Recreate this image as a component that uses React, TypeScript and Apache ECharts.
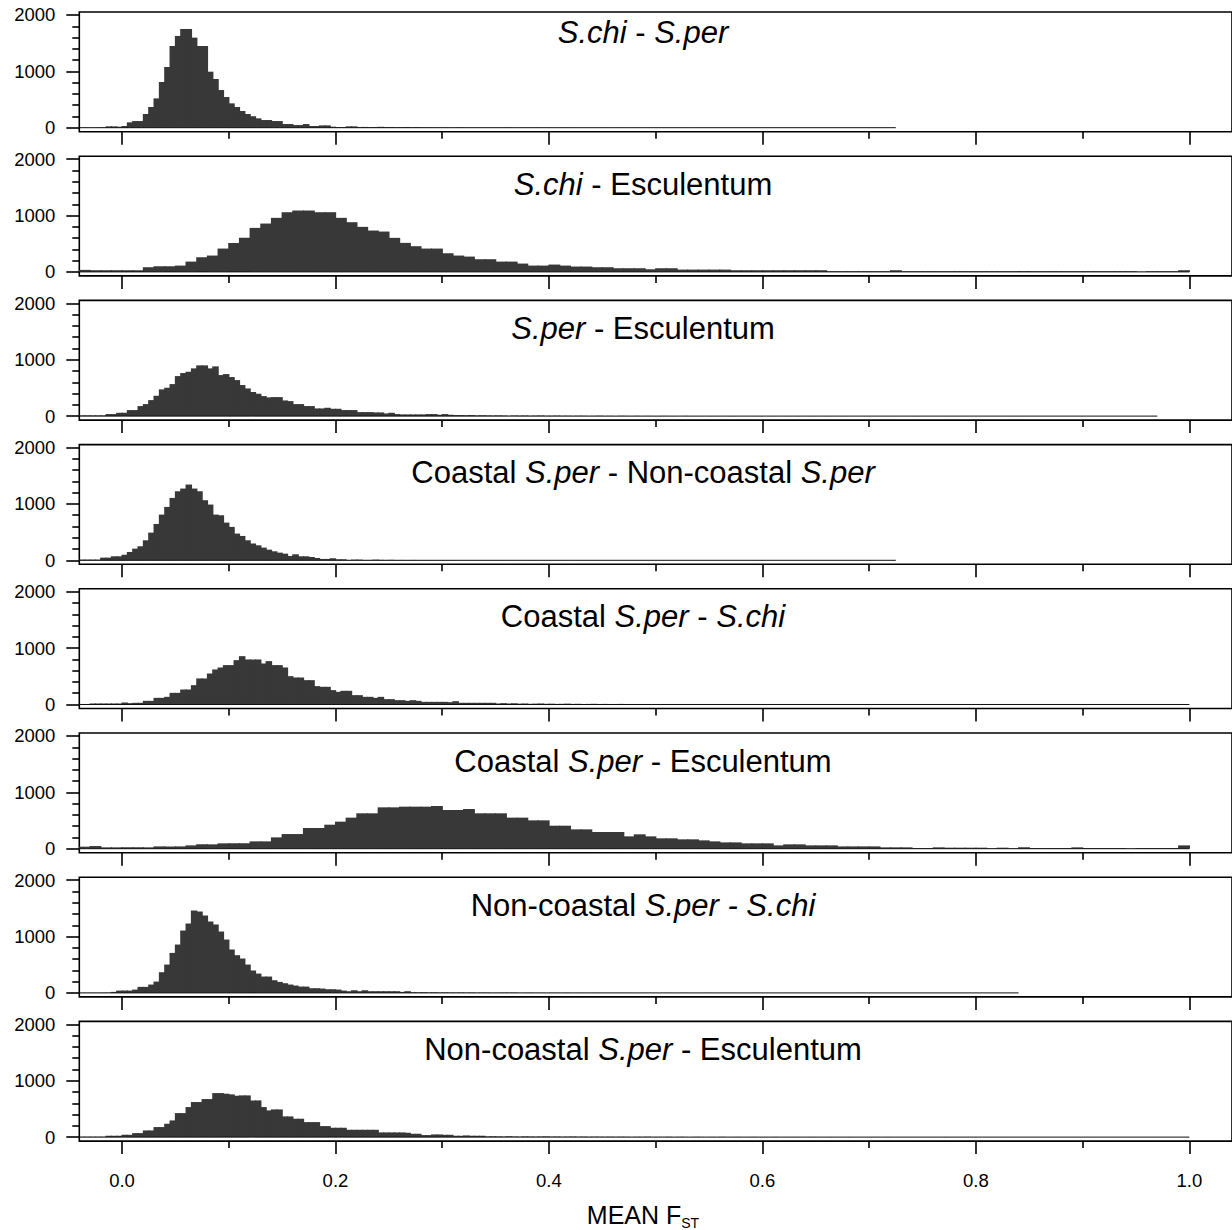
import React, { useEffect, useRef } from "react";
import * as echarts from "echarts";

// ---------- DATA ----------
const xTickMajor = [0, 0.2, 0.4, 0.6, 0.8, 1.0];
const xTickMinor = [0.1, 0.3, 0.5, 0.7, 0.9];
const yTickMajor = [0, 1000, 2000];
const yTickMinor = [200, 400, 600, 800, 1200, 1400, 1600, 1800];

// panel titles: [text, italic]
const titleSchiSper: [string, boolean][] = [["S.chi", true], [" - ", false], ["S.per", true]];
const titleSchiEsc: [string, boolean][] = [["S.chi", true], [" - Esculentum", false]];
const titleSperEsc: [string, boolean][] = [["S.per", true], [" - Esculentum", false]];
const titleCoastNon: [string, boolean][] = [["Coastal ", false], ["S.per", true], [" - Non-coastal ", false], ["S.per", true]];
const titleCoastSchi: [string, boolean][] = [["Coastal ", false], ["S.per", true], [" - ", false], ["S.chi", true]];
const titleCoastEsc: [string, boolean][] = [["Coastal ", false], ["S.per", true], [" - Esculentum", false]];
const titleNonSchi: [string, boolean][] = [["Non-coastal ", false], ["S.per - S.chi", true]];
const titleNonEsc: [string, boolean][] = [["Non-coastal ", false], ["S.per", true], [" - Esculentum", false]];

// histogram bins: first bin left edge, bin width, counts
const binStart = -0.04;
const binWidthFine = 0.005;
const binWidthCoarse = 0.01;

const countsSchiSper = [
  2, 3, 2, 4, 6, 24, 24, 18,
  30, 95, 118, 118, 243, 367, 520, 811, 1077, 1450,
  1628, 1752, 1752, 1598, 1450, 1450, 994, 864, 668, 544,
  432, 367, 296, 243, 201, 166, 136, 136, 118, 118,
  65, 65, 47, 47, 65, 30, 30, 41, 41, 18,
  12, 12, 24, 24, 12, 14, 10, 12, 16, 10,
  12, 8, 10, 12, 8, 10, 6, 4, 5, 3,
  4, 2, 3, 5, 2, 1, 3, 2, 0, 2,
  3, 1, 2, 0, 1, 2, 1, 3, 0, 1,
  1, 0, 2, 1, 0, 1, 0, 1, 1, 0,
  0, 1, 0, 0, 1, 0, 0, 1, 0, 0,
  0, 1, 0, 0, 0, 0, 1, 0, 0, 0,
  0, 0, 0, 1, 0, 0, 0, 0, 0, 0,
  0, 0, 1, 0, 0, 0, 0, 0, 0, 0,
  0, 0, 0, 0, 0, 0, 0, 0, 0, 0,
  0, 0, 0, 0, 1,
];

const countsSchiEsc = [
  36, 30, 30, 30, 30, 30, 83, 100, 100, 112,
  183, 260, 290, 414, 515, 604, 781, 858, 959, 1059,
  1089, 1089, 1059, 1059, 959, 882, 799, 734, 716, 604,
  515, 456, 414, 414, 331, 290, 272, 225, 225, 183,
  183, 148, 112, 112, 130, 112, 95, 95, 83, 83,
  65, 65, 65, 47, 65, 65, 41, 41, 41, 41,
  41, 30, 30, 30, 30, 30, 30, 30, 30, 30,
  12, 12, 12, 12, 12, 12, 30, 12, 12, 12,
  12, 12, 12, 12, 12, 12, 12, 12, 12, 12,
  12, 12, 12, 12, 12, 12, 12, 12, 12, 3,
  12, 12, 12, 30,
];

const countsSperEsc = [
  12, 12, 12, 12, 12, 36, 36, 59,
  59, 107, 107, 178, 213, 284, 361, 474, 503, 568,
  710, 764, 787, 847, 900, 900, 847, 882, 728, 746,
  693, 639, 551, 491, 426, 397, 355, 332, 337, 337,
  278, 266, 213, 213, 178, 178, 136, 136, 148, 130,
  130, 107, 107, 107, 71, 71, 71, 65, 65, 47,
  59, 36, 30, 30, 30, 30, 30, 36, 36, 24,
  36, 24, 18, 18, 15, 18, 12, 15, 12, 10,
  12, 10, 8, 12, 8, 10, 6, 8, 10, 6,
  6, 8, 5, 6, 4, 6, 5, 3, 4, 6,
  3, 4, 2, 5, 3, 2, 4, 1, 3, 2,
  2, 3, 1, 2, 0, 3, 1, 2, 1, 0,
  2, 1, 0, 1, 2, 0, 1, 0, 1, 2,
  0, 1, 0, 0, 1, 0, 2, 0, 0, 1,
  0, 0, 1, 0, 0, 1, 0, 0, 0, 1,
  0, 0, 0, 1, 0, 0, 0, 0, 1, 0,
  0, 0, 0, 0, 0, 1, 0, 0, 0, 0,
  0, 0, 0, 0, 0, 0, 0, 1, 0, 0,
  0, 0, 0, 0, 0, 0, 0, 0, 0, 0,
  0, 0, 0, 0, 0, 0, 0, 0, 0, 0,
  0, 0, 0, 1,
];

const countsCoastNon = [
  12, 12, 12, 12, 47, 47, 71, 71,
  100, 148, 207, 249, 355, 491, 645, 811, 947, 1107,
  1225, 1273, 1344, 1273, 1225, 1066, 989, 811, 799, 669,
  592, 474, 432, 355, 296, 266, 225, 189, 160, 136,
  118, 77, 107, 71, 71, 59, 41, 24, 24, 36,
  18, 18, 6, 12, 12, 6, 6, 12, 8, 6,
  8, 5, 6, 4, 6, 3, 5, 4, 2, 3,
  4, 2, 3, 1, 2, 3, 1, 2, 0, 2,
  1, 2, 0, 1, 1, 0, 2, 1, 0, 1,
  0, 1, 0, 1, 0, 0, 1, 0, 1, 0,
  0, 0, 1, 0, 0, 1, 0, 0, 0, 1,
  0, 0, 0, 0, 1, 0, 0, 0, 0, 0,
  1, 0, 0, 0, 0, 0, 0, 0, 1, 0,
  0, 0, 0, 0, 0, 0, 0, 0, 0, 0,
  0, 0, 0, 0, 0, 0, 0, 0, 0, 0,
  0, 0, 0, 0, 1,
];

const countsCoastSchi = [
  6, 6, 18, 18, 18, 18, 18, 18,
  36, 24, 30, 30, 65, 65, 118, 118, 136, 207,
  207, 266, 266, 343, 462, 462, 550, 622, 657, 699,
  699, 787, 858, 799, 799, 799, 728, 770, 699, 699,
  657, 503, 479, 479, 432, 432, 326, 314, 314, 255,
  225, 243, 243, 166, 166, 136, 136, 118, 136, 95,
  95, 77, 77, 65, 77, 65, 47, 47, 47, 47,
  47, 41, 59, 30, 30, 30, 30, 30, 30, 30,
  18, 24, 18, 20, 15, 18, 12, 15, 18, 12,
  14, 10, 12, 15, 10, 12, 8, 10, 12, 8,
  10, 6, 8, 10, 6, 8, 5, 7, 6, 5,
  6, 4, 5, 3, 6, 4, 2, 5, 3, 4,
  2, 4, 3, 1, 3, 2, 4, 2, 1, 3,
  2, 1, 3, 2, 0, 2, 1, 3, 1, 2,
  1, 0, 2, 1, 1, 3, 0, 1, 2, 0,
  1, 2, 0, 1, 0, 2, 1, 0, 1, 1,
  0, 1, 2, 0, 1, 0, 1, 0, 2, 0,
  1, 0, 0, 1, 0, 1, 0, 0, 1, 0,
  0, 1, 0, 0, 2, 0, 0, 1, 0, 0,
  1, 0, 0, 0, 1, 0, 0, 0, 1, 0,
  0, 0, 1, 0, 0, 0, 0, 1, 0, 3,
];

const countsCoastEsc = [
  36, 47, 24, 24, 24, 24, 24, 41, 41, 41,
  59, 77, 77, 95, 95, 95, 130, 130, 201, 260,
  260, 367, 367, 426, 480, 551, 628, 628, 734, 734,
  746, 746, 746, 758, 687, 687, 704, 628, 628, 628,
  551, 551, 503, 503, 408, 408, 343, 343, 296, 296,
  296, 219, 255, 219, 184, 184, 166, 166, 148, 130,
  112, 112, 95, 95, 95, 59, 77, 77, 59, 59,
  59, 41, 41, 41, 41, 24, 24, 24, 12, 12,
  24, 18, 18, 18, 18, 6, 18, 6, 24, 12,
  12, 12, 12, 24, 12, 12, 12, 12, 2, 12,
  12, 12, 12, 59,
];

const countsNonSchi = [
  2, 2, 3, 2, 3, 4, 18, 41,
  41, 41, 59, 107, 107, 148, 201, 367, 503, 710,
  858, 1107, 1231, 1462, 1444, 1373, 1267, 1214, 1089, 947,
  770, 669, 610, 503, 397, 343, 290, 290, 225, 195,
  172, 148, 130, 112, 112, 83, 83, 77, 65, 65,
  59, 41, 30, 47, 30, 47, 30, 30, 30, 30,
  30, 30, 18, 30, 12, 10, 12, 8, 10, 6,
  8, 6, 5, 7, 4, 6, 3, 5, 4, 2,
  3, 4, 2, 3, 1, 2, 3, 1, 2, 0,
  2, 1, 1, 2, 0, 1, 1, 0, 2, 1,
  0, 1, 0, 1, 1, 0, 0, 1, 0, 1,
  0, 0, 1, 0, 0, 1, 0, 0, 0, 1,
  0, 0, 0, 1, 0, 0, 0, 0, 1, 0,
  0, 0, 0, 0, 0, 1, 0, 0, 0, 0,
  0, 0, 0, 0, 0, 0, 0, 0, 1, 0,
  0, 0, 0, 0, 0, 0, 0, 0, 0, 0,
  0, 0, 0, 0, 0, 0, 0, 0, 0, 0,
  0, 0, 0, 0, 0, 0, 0, 1,
];

const countsNonEsc = [
  6, 6, 6, 6, 6, 24, 24, 24,
  41, 41, 71, 71, 118, 118, 178, 178, 237, 296,
  426, 426, 533, 622, 622, 675, 675, 781, 781, 770,
  758, 734, 740, 740, 651, 651, 533, 474, 491, 491,
  367, 367, 326, 326, 266, 266, 266, 195, 195, 166,
  166, 166, 130, 130, 130, 130, 130, 130, 83, 83,
  83, 83, 83, 77, 59, 59, 36, 36, 47, 47,
  41, 41, 24, 24, 30, 24, 24, 24, 12, 14,
  12, 10, 14, 12, 8, 12, 10, 8, 10, 12,
  8, 10, 6, 8, 10, 6, 8, 5, 7, 6,
  5, 6, 4, 6, 5, 3, 5, 4, 6, 3,
  4, 3, 5, 2, 4, 3, 2, 4, 3, 1,
  3, 2, 4, 1, 2, 3, 1, 2, 3, 1,
  2, 1, 3, 0, 2, 1, 2, 0, 1, 2,
  1, 0, 2, 1, 0, 1, 2, 0, 1, 0,
  1, 1, 0, 2, 0, 1, 0, 1, 0, 1,
  0, 1, 0, 0, 2, 0, 1, 0, 0, 1,
  0, 0, 1, 0, 0, 1, 0, 0, 0, 1,
  0, 0, 0, 1, 0, 0, 0, 0, 1, 0,
  0, 1, 0, 0, 0, 0, 1, 0, 0, 0,
  0, 0, 0, 1, 0, 0, 0, 0, 0, 2,
];

const panelTitles = [
  titleSchiSper, titleSchiEsc, titleSperEsc, titleCoastNon,
  titleCoastSchi, titleCoastEsc, titleNonSchi, titleNonEsc,
];
const panelCounts = [
  countsSchiSper, countsSchiEsc, countsSperEsc, countsCoastNon,
  countsCoastSchi, countsCoastEsc, countsNonSchi, countsNonEsc,
];
const panelBinWidths = [
  binWidthFine, binWidthCoarse, binWidthFine, binWidthFine,
  binWidthFine, binWidthCoarse, binWidthFine, binWidthFine,
];

const xAxisName = "MEAN F";
const xAxisNameSub = "ST";

// ---------- LAYOUT ----------
const FONT = "'Liberation Sans', Arial, Helvetica, sans-serif";
const GRID_LEFT = 79.3;
const GRID_WIDTH = 1153.4;
const GRID_TOP0 = 12;
const GRID_STEP = 144.2;
const GRID_HEIGHT = 119.7;
const X_MIN = -0.04;
const X_MAX = 1.04;
const Y_MIN = -71;
const Y_MAX = 2053;
const BAR_COLOR = "#383838";

function richTitle(parts: [string, boolean][]) {
  return parts.map(([t, it]) => (it ? `{i|${t}}` : `{n|${t}}`)).join("");
}

function App() {
  const ref = useRef<HTMLDivElement>(null);
  useEffect(() => {
    if (!ref.current) return;
    const chart = echarts.init(ref.current, null, { renderer: "svg" });
    const grids: any[] = [];
    const xAxes: any[] = [];
    const yAxes: any[] = [];
    const series: any[] = [];
    const graphics: any[] = [];

    panelCounts.forEach((counts, i) => {
      const top = GRID_TOP0 + i * GRID_STEP;
      const isLast = i === panelCounts.length - 1;
      grids.push({
        left: GRID_LEFT, top, width: GRID_WIDTH, height: GRID_HEIGHT,
        show: true, borderColor: "#000", borderWidth: 1.6, backgroundColor: "transparent",
      });
      const xBase = {
        type: "value", gridIndex: i, min: X_MIN, max: X_MAX, position: "bottom",
        axisLine: { show: false, onZero: false }, splitLine: { show: false },
      };
      xAxes.push({
        ...xBase,
        axisTick: { show: true, length: 13, lineStyle: { color: "#000", width: 1.6 }, customValues: xTickMajor },
        axisLabel: {
          show: isLast, customValues: xTickMajor, margin: 30, fontSize: 18.5, color: "#000", fontFamily: FONT,
          formatter: (v: number) => v.toFixed(1),
        },
      });
      xAxes.push({
        ...xBase,
        axisTick: { show: true, length: 7, lineStyle: { color: "#000", width: 1.6 }, customValues: xTickMinor },
        axisLabel: { show: false },
      });
      const yBase = {
        type: "value", gridIndex: i, min: Y_MIN, max: Y_MAX, position: "left",
        axisLine: { show: false, onZero: false }, splitLine: { show: false },
      };
      yAxes.push({
        ...yBase,
        axisTick: { show: true, length: 13, lineStyle: { color: "#000", width: 1.6 }, customValues: yTickMajor },
        axisLabel: {
          show: true, customValues: yTickMajor, margin: 24, fontSize: 18.5, color: "#000", fontFamily: FONT,
          formatter: (v: number) => String(Math.round(v)),
        },
      });
      yAxes.push({
        ...yBase,
        axisTick: { show: true, length: 7, lineStyle: { color: "#000", width: 1.6 }, customValues: yTickMinor },
        axisLabel: { show: false },
      });

      const w = panelBinWidths[i];
      const data = counts.map((c, k) => [binStart + k * w, binStart + (k + 1) * w, c]);
      series.push({
        type: "custom",
        xAxisIndex: 2 * i,
        yAxisIndex: 2 * i,
        encode: { x: [0, 1], y: 2 },
        data,
        renderItem: (params: any, api: any) => {
          const p0 = api.coord([api.value(0), api.value(2)]);
          const p1 = api.coord([api.value(1), 0]);
          return {
            type: "rect",
            shape: { x: p0[0] - 0.5, y: p0[1], width: p1[0] - p0[0] + 1.2, height: p1[1] - p0[1] },
            style: { fill: BAR_COLOR, lineWidth: 0 },
          };
        },
      });
      const end = binStart + counts.length * w;
      series.push({
        type: "line",
        xAxisIndex: 2 * i,
        yAxisIndex: 2 * i,
        data: [[binStart, 0], [end, 0]],
        showSymbol: false,
        lineStyle: { color: "#111", width: 1 },
        z: 3,
      });

      graphics.push({
        type: "text",
        x: 643,
        y: top + (i === 0 ? 20 : 28),
        style: {
          text: richTitle(panelTitles[i]),
          align: "center",
          verticalAlign: "middle",
          fill: "#000",
          rich: {
            i: { fontStyle: "italic", fontSize: 31, fontFamily: FONT, fill: "#000" },
            n: { fontSize: 31, fontFamily: FONT, fill: "#000" },
          },
        },
      });
    });

    graphics.push({
      type: "text",
      x: 643,
      y: 1215,
      style: {
        text: `{a|${xAxisName}}{s|${xAxisNameSub}}`,
        align: "center",
        verticalAlign: "middle",
        rich: {
          a: { fontSize: 25, fontFamily: FONT, fill: "#000", verticalAlign: "bottom" },
          s: { fontSize: 14, fontFamily: FONT, fill: "#000", verticalAlign: "bottom", padding: [0, 0, -2, 0] },
        },
      },
    });

    chart.setOption({
      animation: false,
      backgroundColor: "#fff",
      grid: grids,
      xAxis: xAxes,
      yAxis: yAxes,
      series,
      graphic: graphics,
    });
    return () => chart.dispose();
  }, []);
  return <div ref={ref} style={{ position: "absolute", left: 0, top: 0, width: 1232, height: 1230 }} />;
}

export default App;
